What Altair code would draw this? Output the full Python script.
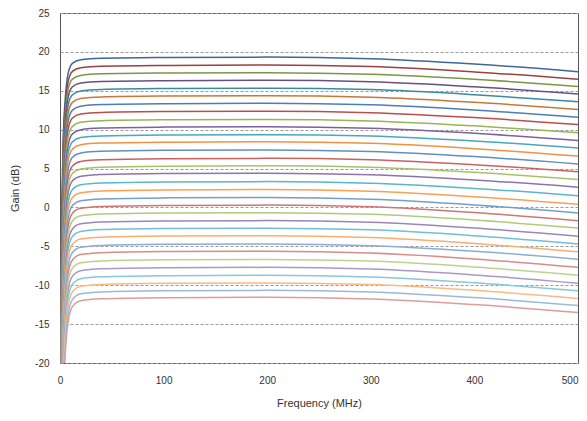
import altair as alt
import pandas as pd

# Frequency points (MHz) shared by all gain-state curves
freq_mhz = [0.5, 1, 2, 3, 5, 8, 12, 20, 40, 100, 200, 300, 400, 500]

# Gain (dB) of each gain state at the frequencies above
gain_rows = [
    [-40, -10.67, 1.33, 8.33, 13.83, 17.33, 18.53, 18.98, 19.18, 19.28, 19.33, 19.12, 18.43, 17.46],
    [-40, -11.85, 0.18, 7.21, 12.75, 16.28, 17.50, 17.96, 18.16, 18.26, 18.31, 18.11, 17.43, 16.48],
    [-40, -12.99, -0.93, 6.14, 11.70, 15.27, 16.50, 16.97, 17.18, 17.28, 17.33, 17.13, 16.48, 15.55],
    [-40, -14.13, -2.04, 5.06, 10.66, 14.25, 15.51, 15.99, 16.20, 16.30, 16.35, 16.16, 15.51, 14.60],
    [-40, -15.31, -3.18, 3.95, 9.58, 13.21, 14.49, 14.98, 15.18, 15.29, 15.34, 15.15, 14.50, 13.60],
    [-40, -16.44, -4.28, 2.89, 8.55, 12.21, 13.51, 14.00, 14.21, 14.32, 14.37, 14.18, 13.52, 12.60],
    [-40, -17.58, -5.39, 1.81, 7.50, 11.20, 12.51, 13.02, 13.23, 13.34, 13.39, 13.19, 12.53, 11.60],
    [-40, -18.75, -6.52, 0.70, 6.43, 10.15, 11.49, 12.01, 12.22, 12.33, 12.38, 12.19, 11.55, 10.65],
    [-40, -19.97, -7.71, -0.45, 5.30, 9.06, 10.42, 10.94, 11.16, 11.27, 11.32, 11.13, 10.49, 9.60],
    [-40, -21.07, -8.78, -1.49, 4.30, 8.09, 9.46, 10.00, 10.22, 10.33, 10.38, 10.18, 9.53, 8.60],
    [-40, -22.25, -9.93, -2.61, 3.21, 7.04, 8.43, 8.98, 9.19, 9.31, 9.36, 9.17, 8.54, 7.65],
    [-40, -23.33, -10.98, -3.62, 2.23, 6.09, 7.50, 8.05, 8.27, 8.39, 8.44, 8.24, 7.56, 6.60],
    [-40, -24.54, -12.15, -4.76, 1.13, 5.01, 6.45, 7.01, 7.23, 7.35, 7.40, 7.20, 6.54, 5.60],
    [-40, -25.79, -13.37, -5.95, -0.03, 3.89, 5.34, 5.92, 6.14, 6.26, 6.31, 6.12, 5.49, 4.60],
    [-40, -26.91, -14.46, -7.01, -1.05, 2.90, 4.37, 4.95, 5.18, 5.30, 5.35, 5.16, 4.51, 3.60],
    [-40, -28.01, -15.53, -8.04, -2.06, 1.93, 3.42, 4.01, 4.24, 4.36, 4.41, 4.21, 3.54, 2.60],
    [-40, -29.26, -16.74, -9.23, -3.21, 0.80, 2.31, 2.92, 3.14, 3.27, 3.32, 3.12, 2.45, 1.50],
    [-40, -30.44, -17.89, -10.35, -4.30, -0.25, 1.28, 1.89, 2.12, 2.25, 2.30, 2.09, 1.39, 0.40],
    [-40, -31.62, -19.04, -11.46, -5.38, -1.30, 0.25, 0.87, 1.10, 1.23, 1.28, 1.06, 0.33, -0.70],
    [-40, -32.76, -20.15, -12.54, -6.43, -2.31, -0.75, -0.11, 0.12, 0.25, 0.30, 0.08, -0.66, -1.70],
    [-40, -33.90, -21.25, -13.61, -7.46, -3.32, -1.73, -1.08, -0.85, -0.72, -0.67, -0.89, -1.62, -2.65],
    [-40, -35.08, -22.40, -14.72, -8.54, -4.37, -2.76, -2.11, -1.87, -1.74, -1.69, -1.91, -2.65, -3.70],
    [-40, -36.21, -23.50, -15.79, -9.58, -5.37, -3.74, -3.08, -2.85, -2.71, -2.66, -2.88, -3.64, -4.70],
    [-40, -37.34, -24.60, -16.86, -10.61, -6.37, -4.73, -4.05, -3.82, -3.68, -3.63, -3.86, -4.62, -5.70],
    [-40, -38.56, -25.79, -18.01, -11.74, -7.46, -5.80, -5.12, -4.88, -4.74, -4.69, -4.91, -5.63, -6.65],
    [-40, -39.66, -26.86, -19.05, -12.74, -8.44, -6.75, -6.06, -5.82, -5.68, -5.63, -5.86, -6.62, -7.70],
    [-40, -40.87, -28.03, -20.20, -13.86, -9.52, -7.82, -7.11, -6.87, -6.73, -6.68, -6.90, -7.66, -8.72],
    [-40, -42.05, -29.18, -21.31, -14.94, -10.57, -8.85, -8.14, -7.89, -7.75, -7.70, -7.93, -8.68, -9.75],
    [-40, -43.24, -30.33, -22.43, -16.03, -11.62, -9.88, -9.16, -8.92, -8.77, -8.72, -8.94, -9.68, -10.72],
    [-40, -44.38, -31.44, -23.51, -17.07, -12.64, -10.87, -10.14, -9.90, -9.75, -9.70, -9.92, -10.66, -11.70],
    [-40, -45.50, -32.53, -24.56, -18.10, -13.63, -11.85, -11.11, -10.86, -10.71, -10.66, -10.87, -11.59, -12.60],
    [-40, -46.55, -33.55, -25.55, -19.05, -14.55, -12.75, -12.00, -11.75, -11.60, -11.55, -11.76, -12.49, -13.50],
]

series_names = [f"State {i}" for i in range(len(gain_rows))]

x_ticks = [0, 100, 200, 300, 400, 500]
y_ticks = [-20, -15, -10, -5, 0, 5, 10, 15, 20, 25]

# Colour styling: six accent hues, getting lighter from top curve to bottom curve
accents = [(79, 129, 189), (192, 80, 77), (155, 187, 89),
           (128, 100, 162), (75, 172, 198), (247, 150, 70)]
group_style = [("shade", 0.80), ("shade", 0.97), ("tint", 0.10),
               ("tint", 0.22), ("tint", 0.34), ("tint", 0.44)]


def style_color(i):
    r, g, b = accents[i % 6]
    kind, f = group_style[min(i // 6, 5)]
    if kind == "shade":
        c = [v * f for v in (r, g, b)]
    else:
        c = [v + (255 - v) * f for v in (r, g, b)]
    return "#%02x%02x%02x" % tuple(int(round(v)) for v in c)


palette = [style_color(i) for i in range(len(gain_rows))]

records = []
for name, row in zip(series_names, gain_rows):
    for f, g in zip(freq_mhz, row):
        records.append({"series": name, "freq": f, "gain": g})
df = pd.DataFrame(records)

FONT = "Liberation Sans"

chart = alt.Chart(df).mark_line(
    strokeWidth=1.5, interpolate="monotone", clip=True
).encode(
    x=alt.X(
        "freq:Q",
        scale=alt.Scale(domain=[0, 500], nice=False, zero=False),
        axis=alt.Axis(
            values=x_ticks, grid=False, ticks=False, domain=False,
            labelPadding=12, title="Frequency (MHz)", titleY=40,
            titleBaseline="middle", labelFlush=False,
            labelAlign={"condition": {"test": "datum.value == 500", "value": "right"},
                        "value": "center"},
        ),
    ),
    y=alt.Y(
        "gain:Q",
        scale=alt.Scale(domain=[-20, 25], nice=False, zero=False),
        axis=alt.Axis(
            values=y_ticks, grid=True, gridDash=[3, 2], gridColor="#9a9a9a",
            gridWidth=1, ticks=False, domain=False, labelPadding=11,
            labelExpr="'' + datum.value", title="Gain (dB)",
            titleX=-45, titleY=175, titleBaseline="middle", labelFlush=False,
        ),
    ),
    color=alt.Color(
        "series:N",
        scale=alt.Scale(domain=series_names, range=palette),
        legend=None,
    ),
).properties(
    width=518,
    height=350,
    autosize=alt.AutoSizeParams(type="none"),
    padding={"left": 52, "top": 5, "right": 1, "bottom": 46},
    background="white",
).configure_view(
    stroke="#555555", strokeWidth=1
).configure_axis(
    labelFont=FONT, labelFontSize=10, labelColor="#333333",
    titleFont=FONT, titleFontSize=11, titleFontWeight="normal",
    titleColor="#333333",
)

chart.save("out.html", embed_options={"renderer": "svg", "actions": False})
